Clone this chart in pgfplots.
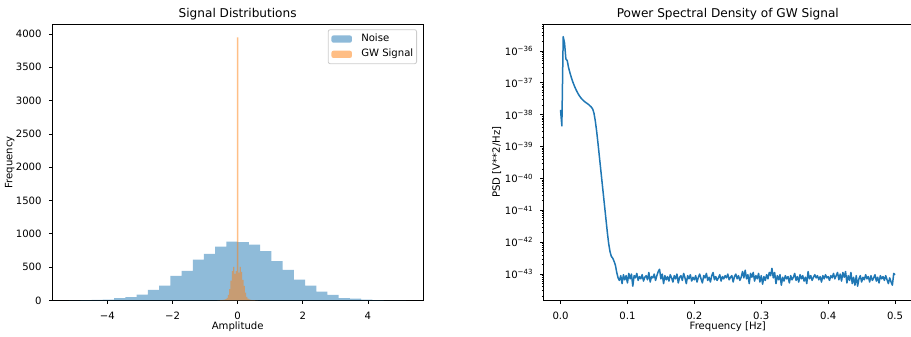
\documentclass[border=0pt]{standalone}
\usepackage{fontspec}
\setmainfont{DejaVu Sans}
\usepackage{pgfplots}
\pgfplotsset{compat=1.18}
\definecolor{c0}{HTML}{1F77B4}
\definecolor{c1}{HTML}{FF7F0E}
\newcommand{\fs}{\fontsize{10.1pt}{12pt}\selectfont}
\newcommand{\titlefont}{\fontsize{12.1pt}{14pt}\selectfont}
\pgfplotsset{
  mpl/.style={
    scale only axis, anchor=south west,
    axis line style={line width=0.8pt, black},
    tick align=outside, xtick pos=bottom, ytick pos=left,
    major tick length=3.5pt, minor tick length=2pt,
    major tick style={black, line width=0.8pt},
    minor tick style={black, line width=0.6pt},
    tick label style={font=\fs},
    xticklabel style={anchor=base, inner sep=0pt, yshift=-15.6pt},
    yticklabel style={anchor=east, inner sep=0pt, xshift=-7pt},
    title style={font=\titlefont, at={(0.5,1)}, anchor=base, yshift=0.5pt},
    label style={font=\fs},
    xlabel style={anchor=base},
    ylabel style={anchor=base},
  }
}
\begin{document}
\begin{tikzpicture}
\useasboundingbox (0,0) rectangle (911pt,337pt);
\begin{axis}[mpl,
  at={(52.3pt,36.5pt)}, width=370.7pt, height=276.5pt,
  xmin=-5.69, xmax=5.69, ymin=0, ymax=4150,
  xtick={-4,-2,0,2,4}, xticklabels={−4,−2,0,2,4},
  ytick={0,500,1000,1500,2000,2500,3000,3500,4000},
  yticklabels={0,500,1000,1500,2000,2500,3000,3500,4000},
  title={Signal Distributions},
  xlabel={Amplitude}, ylabel={Frequency},
  xlabel style={at={(axis description cs:0.5,-0.1031)}},
  ylabel style={at={(axis description cs:-0.1079,0.5)}},
  legend image code/.code={\fill[#1] (0pt,-3.6pt) rectangle (20.5pt,3.6pt);},
  legend style={at={(axis description cs:1,1)}, anchor=north east,
    xshift=-6pt, yshift=-5.3pt, draw=black!20, rounded corners=2pt,
    fill=white, fill opacity=0.8, text opacity=1, line width=0.8pt,
    inner xsep=3.3pt, inner ysep=1.7pt, row sep=0pt,
    font=\fs, cells={anchor=west},
    nodes={inner xsep=0pt, inner ysep=2.8pt, text height=7.5pt, text depth=2.2pt},
    /tikz/every odd column/.style={column sep=9.3pt}},
]
\addplot[const plot, fill=c0, fill opacity=0.5, draw=none] coordinates {
(-5.170,3) (-4.825,5) (-4.481,8) (-4.136,12) (-3.791,35) (-3.447,50)
(-3.102,90) (-2.757,160) (-2.412,225) (-2.068,370) (-1.723,445)
(-1.378,615) (-1.034,700) (-0.689,810) (-0.344,885) (0.000,875)
(0.345,840) (0.689,740) (1.034,590) (1.379,460) (1.723,315)
(2.068,225) (2.413,135) (2.758,85) (3.102,35) (3.447,28)
(3.792,12) (4.136,5) (4.481,2) (4.826,1) (5.170,1)
} \closedcycle;
\addlegendentry{Noise}
\addplot[const plot, fill=c1, fill opacity=0.5, draw=none] coordinates {
(-0.62,2) (-0.58,3) (-0.54,4) (-0.50,6) (-0.46,8) (-0.42,12)
(-0.38,20) (-0.34,40) (-0.30,85) (-0.26,170) (-0.22,300) (-0.18,440)
(-0.14,505) (-0.10,400) (-0.06,440) (-0.02,3950) (0.02,420) (0.06,505)
(0.10,430) (0.14,310) (0.18,220) (0.22,120) (0.26,55) (0.30,28)
(0.34,16) (0.38,10) (0.42,7) (0.46,5) (0.50,4) (0.54,3) (0.58,2) (0.62,2)
} \closedcycle;
\addlegendentry{GW Signal}
\node[anchor=base east, font=\fs, inner sep=0pt] at (axis description cs:0.9965,-0.1031) {1e−18};
\end{axis}

\begin{axis}[mpl,
  at={(543.8pt,36.5pt)}, width=368pt, height=276.5pt,
  xmin=-0.025, xmax=0.525, ymin=-43.83, ymax=-35.153,
  xtick={0,0.1,0.2,0.3,0.4,0.5}, xticklabels={0.0,0.1,0.2,0.3,0.4,0.5},
  ytick={-43,-42,-41,-40,-39,-38,-37,-36},
  yticklabels={10\textsuperscript{−43},10\textsuperscript{−42},10\textsuperscript{−41},10\textsuperscript{−40},10\textsuperscript{−39},10\textsuperscript{−38},10\textsuperscript{−37},10\textsuperscript{−36}},
  minor ytick={
  -43.69897,-43.52288,-43.39794,-43.30103,-43.22185,-43.15490,-43.09691,-43.04576,
  -42.69897,-42.52288,-42.39794,-42.30103,-42.22185,-42.15490,-42.09691,-42.04576,
  -41.69897,-41.52288,-41.39794,-41.30103,-41.22185,-41.15490,-41.09691,-41.04576,
  -40.69897,-40.52288,-40.39794,-40.30103,-40.22185,-40.15490,-40.09691,-40.04576,
  -39.69897,-39.52288,-39.39794,-39.30103,-39.22185,-39.15490,-39.09691,-39.04576,
  -38.69897,-38.52288,-38.39794,-38.30103,-38.22185,-38.15490,-38.09691,-38.04576,
  -37.69897,-37.52288,-37.39794,-37.30103,-37.22185,-37.15490,-37.09691,-37.04576,
  -36.69897,-36.52288,-36.39794,-36.30103,-36.22185,-36.15490,-36.09691,-36.04576,
  -35.69897,-35.52288,-35.39794,-35.30103,-35.22185,-35.15490},
  title={Power Spectral Density of GW Signal},
  xlabel={Frequency [Hz]}, ylabel={PSD [V**2/Hz]},
  xlabel style={at={(axis description cs:0.5,-0.1038)}},
  ylabel style={at={(axis description cs:-0.1196,0.5)}},
]
\addplot[c0, line width=1.5pt, line join=round] table {
f lg
0.000 -37.85
0.002 -38.35
0.004 -35.55
0.006 -35.75
0.008 -36.25
0.010 -36.30
0.012 -36.52
0.014 -36.68
0.016 -36.82
0.018 -36.95
0.020 -37.06
0.022 -37.16
0.024 -37.25
0.026 -37.33
0.028 -37.40
0.030 -37.46
0.032 -37.51
0.034 -37.55
0.036 -37.59
0.038 -37.62
0.040 -37.65
0.042 -37.68
0.044 -37.72
0.046 -37.76
0.048 -37.82
0.050 -37.95
0.052 -38.20
0.054 -38.52
0.056 -38.90
0.058 -39.30
0.060 -39.70
0.062 -40.10
0.064 -40.50
0.066 -40.90
0.068 -41.30
0.070 -41.70
0.072 -42.05
0.074 -42.30
0.076 -42.45
0.078 -42.50
0.080 -42.60
0.082 -42.72
0.084 -42.95
0.086 -43.12
0.088 -43.20
0.090 -43.05
0.092 -43.30
0.094 -43.02
0.096 -43.18
0.098 -43.05
0.100 -43.28
0.102 -42.98
0.104 -43.15
0.106 -43.00
0.108 -43.38
0.110 -43.05
0.112 -43.12
0.114 -42.98
0.116 -43.20
0.118 -43.08
0.120 -43.15
0.122 -43.02
0.124 -43.22
0.126 -43.10
0.128 -43.05
0.130 -43.18
0.132 -42.95
0.134 -43.25
0.136 -43.08
0.138 -43.12
0.140 -43.00
0.142 -43.20
0.144 -43.05
0.146 -42.92
0.148 -42.85
0.150 -43.15
0.152 -43.00
0.154 -43.30
0.156 -43.05
0.158 -43.18
0.160 -43.08
0.162 -43.22
0.164 -43.02
0.166 -43.12
0.168 -43.25
0.170 -43.05
0.172 -43.15
0.174 -43.00
0.176 -43.28
0.178 -43.10
0.180 -43.05
0.182 -43.20
0.184 -42.98
0.186 -43.12
0.188 -43.30
0.190 -43.05
0.192 -43.15
0.194 -43.02
0.196 -43.22
0.198 -43.10
0.200 -43.18
0.202 -43.05
0.204 -43.25
0.206 -43.10
0.208 -43.00
0.210 -43.15
0.212 -43.28
0.214 -43.05
0.216 -43.12
0.218 -42.98
0.220 -43.20
0.222 -43.10
0.224 -43.25
0.226 -43.05
0.228 -42.95
0.230 -43.18
0.232 -43.08
0.234 -43.20
0.236 -43.12
0.238 -43.02
0.240 -43.22
0.242 -43.08
0.244 -43.15
0.246 -43.05
0.248 -43.12
0.250 -43.00
0.252 -43.18
0.254 -43.10
0.256 -43.05
0.258 -43.25
0.260 -43.08
0.262 -43.00
0.264 -43.15
0.266 -43.05
0.268 -43.20
0.270 -43.10
0.272 -42.92
0.274 -43.12
0.276 -42.88
0.278 -43.15
0.280 -43.02
0.282 -43.30
0.284 -42.98
0.286 -43.10
0.288 -42.95
0.290 -43.22
0.292 -43.05
0.294 -43.15
0.296 -42.98
0.298 -43.25
0.300 -43.05
0.302 -43.32
0.304 -43.08
0.306 -43.20
0.308 -43.02
0.310 -43.15
0.312 -42.95
0.314 -43.05
0.316 -42.82
0.318 -43.12
0.320 -42.95
0.322 -43.30
0.324 -43.05
0.326 -43.18
0.328 -43.02
0.330 -43.35
0.332 -43.10
0.334 -43.22
0.336 -43.05
0.338 -43.15
0.340 -43.08
0.342 -43.28
0.344 -43.05
0.346 -43.18
0.348 -43.10
0.350 -42.98
0.352 -43.20
0.354 -43.08
0.356 -43.25
0.358 -43.02
0.360 -43.15
0.362 -43.05
0.364 -43.22
0.366 -43.10
0.368 -43.30
0.370 -42.92
0.372 -43.15
0.374 -43.05
0.376 -43.20
0.378 -43.10
0.380 -43.02
0.382 -43.12
0.384 -43.05
0.386 -43.18
0.388 -43.08
0.390 -43.25
0.392 -43.05
0.394 -43.15
0.396 -43.02
0.398 -43.12
0.400 -43.08
0.402 -43.20
0.404 -43.05
0.406 -43.12
0.408 -42.98
0.410 -43.15
0.412 -43.05
0.414 -42.95
0.416 -43.18
0.418 -43.00
0.420 -43.22
0.422 -42.95
0.424 -43.10
0.426 -42.92
0.428 -43.28
0.430 -43.05
0.432 -43.20
0.434 -42.95
0.436 -43.30
0.438 -43.10
0.440 -43.35
0.442 -43.05
0.444 -43.38
0.446 -43.15
0.448 -43.05
0.450 -43.25
0.452 -43.10
0.454 -43.18
0.456 -43.02
0.458 -43.15
0.460 -43.08
0.462 -43.25
0.464 -43.05
0.466 -43.20
0.468 -43.12
0.470 -43.02
0.472 -43.22
0.474 -43.10
0.476 -43.28
0.478 -43.05
0.480 -43.15
0.482 -43.08
0.484 -43.20
0.486 -43.05
0.488 -43.18
0.490 -43.30
0.492 -43.12
0.494 -43.25
0.496 -43.35
0.498 -42.98
0.500 -43.02
};
\end{axis}
\end{tikzpicture}
\end{document}
